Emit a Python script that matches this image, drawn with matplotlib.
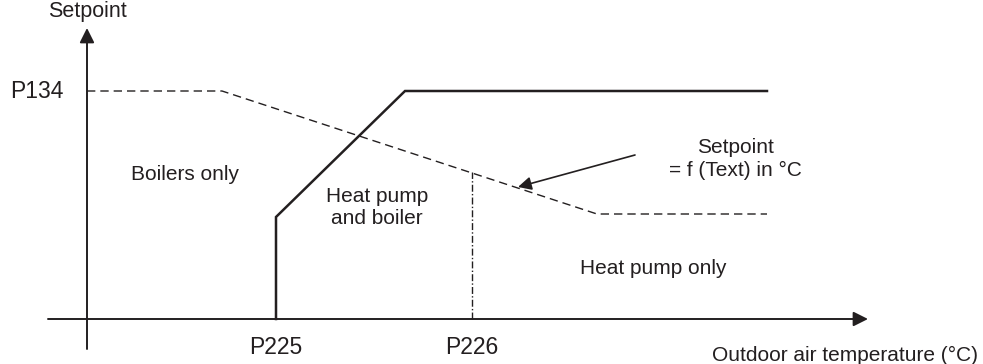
import matplotlib.pyplot as plt

plt.rcParams['font.family'] = ['Liberation Sans', 'DejaVu Sans']

# schematic units: origin where the two axes cross
p134 = 228          # maximum setpoint level
p225 = 189          # outdoor temp where the heat pump starts
p226 = 385          # outdoor temp where boilers stop
x_end = 680         # right end of the curves

# heat pump limit (solid)
hp_x = [p225, p225, 318, x_end]
hp_y = [0, 102, p134, p134]

# setpoint law (dashed)
sp_x = [0, 135, 510, x_end]
sp_y = [p134, p134, 105, 105]

ink = "#231f20"

fig = plt.figure(figsize=(9.83, 3.64), dpi=100)
ax = fig.add_axes([0, 0, 1, 1])
ax.set_xlim(-87, 983 - 87)
ax.set_ylim(319 - 364, 319)
ax.axis("off")

# axes with arrow heads
ax.annotate("", xy=(0, 291), xytext=(0, -30),
            arrowprops=dict(arrowstyle="-|>", color=ink, lw=1.4, mutation_scale=22,
                            shrinkA=0, shrinkB=0))
ax.annotate("", xy=(781, 0), xytext=(-39, 0),
            arrowprops=dict(arrowstyle="-|>", color=ink, lw=1.4, mutation_scale=22,
                            shrinkA=0, shrinkB=0))

ax.plot(sp_x, sp_y, color=ink, lw=1, dashes=(6, 3.6))
ax.plot(hp_x, hp_y, color=ink, lw=1.8, solid_joinstyle="miter")
ax.plot([p226, p226], [0, 147], color=ink, lw=1, dashes=(5, 1.6, 1, 1.6))

# pointer to the setpoint law
ax.annotate("", xy=(431, 132), xytext=(548, 164),
            arrowprops=dict(arrowstyle="-|>", color=ink, lw=1.2, mutation_scale=20,
                            shrinkA=0, shrinkB=0))

fs = 15
ax.text(0, 307, "Setpoint", ha="center", va="center", fontsize=15.5, color=ink)
ax.text(-50, p134, "P134", ha="center", va="center", fontsize=16.5, color=ink)
ax.text(98, 144, "Boilers only", ha="center", va="center", fontsize=fs, color=ink)
ax.text(290, 111, "Heat pump\nand boiler", ha="center", va="center", fontsize=fs,
        color=ink, linespacing=1.2)
ax.text(648, 160, "Setpoint\n= f (Text) in °C", ha="center", va="center", fontsize=fs,
        color=ink, linespacing=1.2)
ax.text(566, 51, "Heat pump only", ha="center", va="center", fontsize=fs, color=ink)
ax.text(p225, -28, "P225", ha="center", va="center", fontsize=16.5, color=ink)
ax.text(p226, -28, "P226", ha="center", va="center", fontsize=16.5, color=ink)
ax.text(758, -36, "Outdoor air temperature (°C)", ha="center", va="center",
        fontsize=fs, color=ink)

fig.savefig("out.png", dpi=100)
